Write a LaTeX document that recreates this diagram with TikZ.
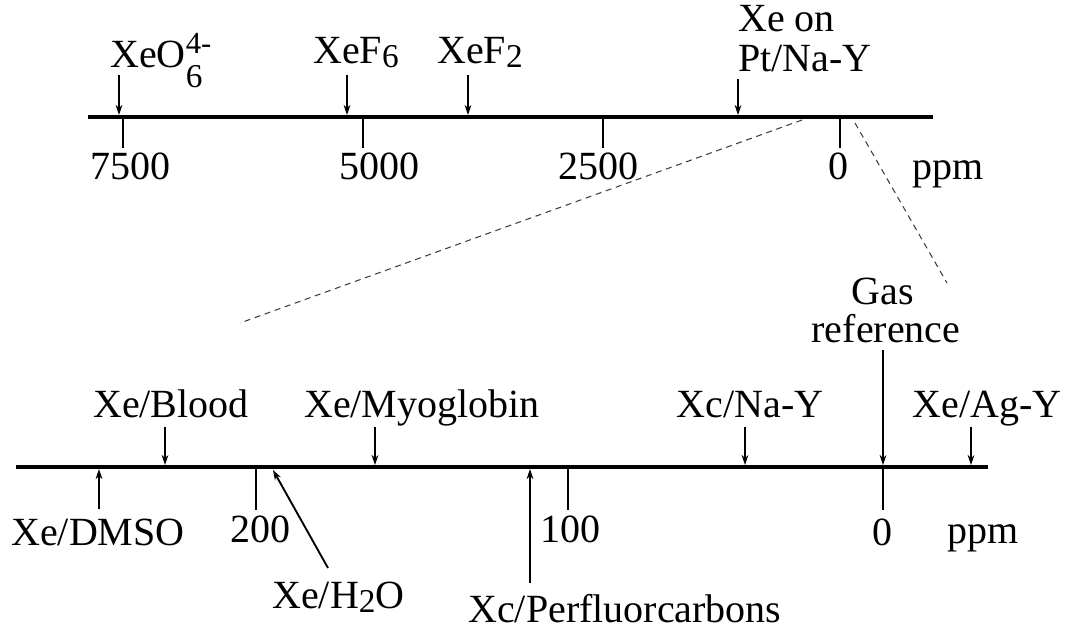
\documentclass[tikz,border=0pt]{standalone}
\usepackage{fontspec}
\setmainfont{Liberation Serif}
\usetikzlibrary{arrows.meta}
\newcommand\mysmall{\fontsize{25}{25}\selectfont}
\begin{document}
\begin{tikzpicture}[x=0.75pt,y=-0.75pt,
  lbl/.style={inner sep=0pt, font=\fontsize{30}{30}\selectfont},
  axisline/.style={line width=2.6pt},
  tickline/.style={line width=2.2pt},
  arr/.style={line width=1.4pt, -{Stealth[length=7.5pt,width=5pt]}},
  zoomline/.style={line width=0.8pt, dash pattern=on 4.5pt off 3.5pt, black!75}]
\useasboundingbox (0,0) rectangle (1068,632);

% ---------------- top axis ----------------
\coordinate (ta0) at (88,117);
\coordinate (ta1) at (933,117);
\draw[axisline] (ta0) -- (ta1);
\foreach \x/\n in {123/t7500,363/t5000,603/t2500,840/t0}{
  \coordinate (\n a) at (\x,117);
  \coordinate (\n b) at (\x,148);
  \draw[tickline] (\n a) -- (\n b);
}
\node[lbl,anchor=base] (l7500) at (130,179) {7500};
\node[lbl,anchor=base] (l5000) at (379,179) {5000};
\node[lbl,anchor=base] (l2500) at (598,179) {2500};
\node[lbl,anchor=base] (l0top) at (838,179) {0};
\node[lbl,anchor=base] (ppmtop) at (948,179) {ppm};

% top labels
\node[lbl,anchor=base west] (xeo6) at (110,67)
  {XeO\rlap{\raisebox{-15.5pt}{\mysmall 6}}\raisebox{10.5pt}{\fontsize{23}{23}\selectfont 4-}};
\node[lbl,anchor=base west] (xef6) at (313,63) {XeF\raisebox{-3pt}{\mysmall 6}};
\node[lbl,anchor=base west] (xef2) at (437,63) {XeF\raisebox{-3pt}{\mysmall 2}};
\node[lbl,anchor=base west] (pt1) at (738,31) {Xe on};
\node[lbl,anchor=base west] (pt2) at (738,71) {Pt/Na-Y};

\foreach \x/\n/\t in {119/axo/75,347/axf6/75,468/axf2/75,738/apt/79}{
  \coordinate (\n s) at (\x,\t);
  \coordinate (\n e) at (\x,115);
  \draw[arr] (\n s) -- (\n e);
}

% ---------------- zoom lines ----------------
\coordinate (z1a) at (802,120);
\coordinate (z1b) at (240,323);
\coordinate (z2a) at (855,123);
\coordinate (z2b) at (947,283);
\draw[zoomline] (z1a) -- (z1b);
\draw[zoomline] (z2a) -- (z2b);

% ---------------- bottom axis ----------------
\coordinate (ba0) at (16,467);
\coordinate (ba1) at (988,467);
\draw[axisline] (ba0) -- (ba1);
\foreach \x/\n in {256/b200,568/b100,883/b0}{
  \coordinate (\n a) at (\x,467);
  \coordinate (\n b) at (\x,510);
  \draw[tickline] (\n a) -- (\n b);
}
\node[lbl,anchor=base] (l200) at (260,542) {200};
\node[lbl,anchor=base] (l100) at (570,542) {100};
\node[lbl,anchor=base] (l0bot) at (882,545) {0};
\node[lbl,anchor=base] (ppmbot) at (983,543) {ppm};

% bottom labels above
\node[lbl,anchor=base] (blood) at (171,417) {Xe/Blood};
\node[lbl,anchor=base] (myo) at (422,417) {Xe/Myoglobin};
\node[lbl,anchor=base] (nay) at (750,417) {Xc/Na-Y};
\node[lbl,anchor=base] (agy) at (987,417) {Xe/Ag-Y};
\node[lbl,anchor=base] (gas) at (883,304) {Gas};
\node[lbl,anchor=base] (ref) at (886,342) {reference};

\foreach \x/\n/\t in {165/abl/427,375/amy/427,745/ana/427,883/agr/350,971/aag/427}{
  \coordinate (\n s) at (\x,\t);
  \coordinate (\n e) at (\x,465);
  \draw[arr] (\n s) -- (\n e);
}

% bottom labels below
\node[lbl,anchor=base] (dmso) at (98,545) {Xe/DMSO};
\node[lbl,anchor=base west] (h2o) at (272,608) {Xe/H\raisebox{-3pt}{\mysmall 2}O};
\node[lbl,anchor=base west] (pfc) at (468,622) {Xc/Perfluorcarbons};

\coordinate (admsos) at (99,509);
\coordinate (admsoe) at (99,469);
\draw[arr] (admsos) -- (admsoe);
\coordinate (ah2os) at (328,568);
\coordinate (ah2oe) at (273,470);
\draw[arr] (ah2os) -- (ah2oe);
\coordinate (apfcs) at (530,583);
\coordinate (apfce) at (530,469);
\draw[arr] (apfcs) -- (apfce);
\end{tikzpicture}
\end{document}
